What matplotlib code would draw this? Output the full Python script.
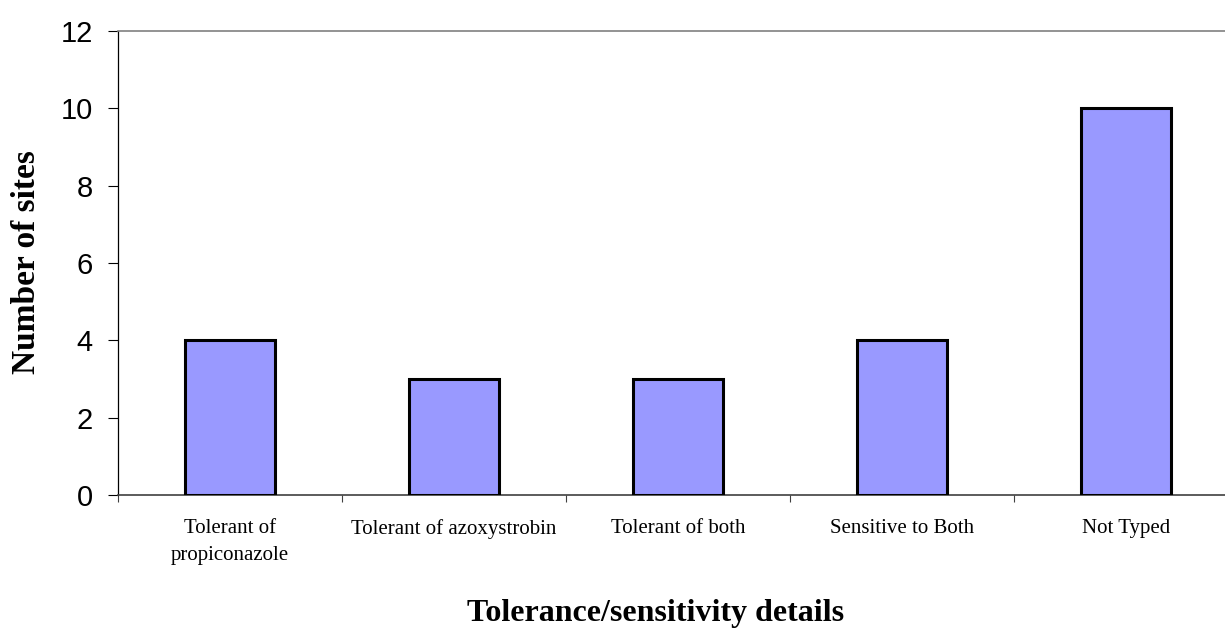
import matplotlib
matplotlib.use("Agg")
import matplotlib.pyplot as plt
import numpy as np

categories = ["Tolerant of\npropiconazole", "Tolerant of azoxystrobin",
              "Tolerant of both", "Sensitive to Both", "Not Typed"]
sites = [4, 3, 3, 4, 10]
y_ticks = [0, 2, 4, 6, 8, 10, 12]

fig = plt.figure(figsize=(12.25, 6.3), dpi=100)
ax = fig.add_axes([118 / 1225, 1 - 495 / 630, 1120 / 1225, 464 / 630])

x = np.arange(len(categories))
ax.bar(x, sites, width=0.4, color="#9999FF", edgecolor="black",
       linewidth=2.2, zorder=3)

ax.set_xlim(-0.5, len(categories) - 0.5)
ax.set_ylim(0, 12)

ax.set_yticks(y_ticks)
ax.set_yticklabels([str(v) for v in y_ticks], family="Liberation Sans",
                   fontsize=21)
ax.tick_params(axis="y", direction="out", length=7.2, width=0.8,
               pad=11, color="black")

ax.set_xticks(x)
ax.set_xticklabels(categories, family="Liberation Serif", fontsize=15,
                   linespacing=1.6, va="top")
ax.tick_params(axis="x", which="major", length=0, pad=17)
ax.set_xticks(np.arange(len(categories) + 1) - 0.5, minor=True)
ax.tick_params(axis="x", which="minor", direction="out", length=5,
               width=0.8, color="#404040")

ax.spines["right"].set_visible(False)
ax.spines["top"].set_color("#808080")
ax.spines["top"].set_linewidth(1.2)
ax.spines["left"].set_color("black")
ax.spines["left"].set_linewidth(0.9)
ax.spines["bottom"].set_color("#404040")
ax.spines["bottom"].set_linewidth(1.2)

fig.text(656 / 1225, 1 - 614 / 630, "Tolerance/sensitivity details",
         family="Liberation Serif", fontweight="bold", fontsize=23,
         ha="center", va="center")
fig.text(27 / 1225, 1 - 262 / 630, "Number of sites",
         family="Liberation Serif", fontweight="bold", fontsize=24,
         rotation=90, ha="center", va="center")

fig.savefig("out.png", dpi=100)
